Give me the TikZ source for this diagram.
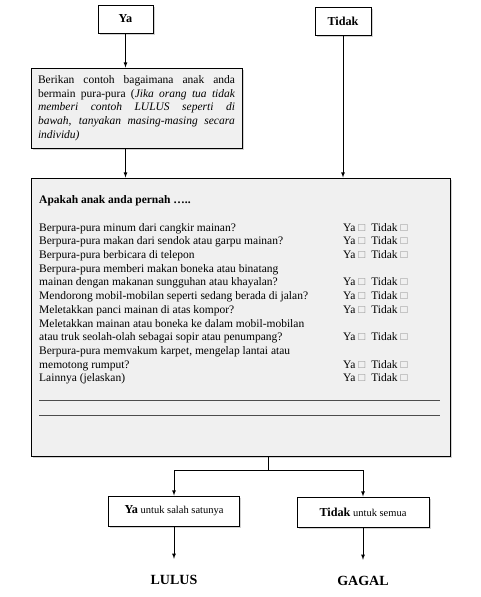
\documentclass[tikz,border=0pt]{standalone}
\usepackage{fontspec}
\setmainfont{Liberation Serif}
\usetikzlibrary{arrows}
\usetikzlibrary{shadows}
\tikzset{t/.style={font=\fontsize{11.5}{13.7}\selectfont}}
\tikzset{h/.style={font=\fontsize{12.2}{14}\selectfont\bfseries}}
\tikzset{s/.style={font=\fontsize{10.5}{12}\selectfont}}
\tikzset{b/.style={font=\fontsize{14}{16}\selectfont\bfseries}}
\tikzset{kotak/.style={draw, line width=1pt, fill=white, inner sep=0pt,
  drop shadow={shadow xshift=1.5pt, shadow yshift=-1.5pt, fill=black!35}}}
\tikzset{abu/.style={kotak, fill=black!6}}
\tikzset{panah/.style={-latex, line width=0.8pt}}
\newcommand{\kk}{\textcolor{black!45}{□}}
\newcommand{\yt}{Ya \kk\hspace{6pt}Tidak \kk}

\begin{document}
\begin{tikzpicture}[x=1pt, y=-1pt]
        \useasboundingbox (0,0) rectangle (481,597);
        \node[kotak, h, minimum width=55pt, minimum height=28pt] (ya) at (125.5,19) {Ya};
        \node[kotak, h, minimum width=56pt, minimum height=28pt] (tidak) at (343,21) {Tidak};
        \node[abu, t, minimum width=211pt, minimum height=80pt, text width=197pt, align=justify] (contoh) at (136.5,108)
          {Berikan contoh bagaimana anak anda\linebreak bermain pura-pura (\textit{Jika orang tua tidak\linebreak memberi contoh LULUS seperti di\linebreak bawah, tanyakan masing-masing secara\linebreak individu)}};
        \node[abu, minimum width=419pt, minimum height=278pt] (tanya) at (240.5,317) {};
        \node[t, anchor=north west, inner sep=0pt] (daftar) at (39,194) {%
          \begin{tabular}{@{}p{304pt}@{}l@{}}
          \textbf{Apakah anak anda pernah …..} & \\
          & \\
          Berpura-pura minum dari cangkir mainan? & \yt \\
          Berpura-pura makan dari sendok atau garpu mainan? & \yt \\
          Berpura-pura berbicara di telepon & \yt \\
          Berpura-pura memberi makan boneka atau binatang & \\
          mainan dengan makanan sungguhan atau khayalan? & \yt \\
          Mendorong mobil-mobilan seperti sedang berada di jalan? & \yt \\
          Meletakkan panci mainan di atas kompor? & \yt \\
          Meletakkan mainan atau boneka ke dalam mobil-mobilan & \\
          atau truk seolah-olah sebagai sopir atau penumpang? & \yt \\
          Berpura-pura memvakum karpet, mengelap lantai atau & \\
          memotong rumput? & \yt \\
          Lainnya (jelaskan) & \yt \\
          \end{tabular}};
        \coordinate (garis1) at (39,400);
        \coordinate (garis2) at (39,415);
        \draw[black!70, line width=0.6pt] (garis1) -- ++(401,0);
        \draw[black!70, line width=0.6pt] (garis2) -- ++(401,0);
        \coordinate (cabang) at (268,470);
        \node[kotak, s, minimum width=131pt, minimum height=30pt] (satu) at (174,511)
          {{\fontsize{12.2}{14}\selectfont\textbf{Ya}} untuk salah satunya};
        \node[kotak, s, minimum width=132pt, minimum height=30pt] (semua) at (363,512)
          {{\fontsize{12.2}{14}\selectfont\textbf{Tidak}} untuk semua};
        \node[b] (lulus) at (174,580) {LULUS};
        \node[b] (gagal) at (363,581) {GAGAL};
        \draw[panah] (ya) -- (ya |- contoh.north);
        \draw[panah] (contoh.south -| ya) -- (ya |- tanya.north);
        \draw[panah] (tidak) -- (tidak |- tanya.north);
        \draw[line width=0.8pt] (tanya.south -| cabang) -- (cabang);
        \draw[panah] (cabang) -| (satu);
        \draw[panah] (cabang) -| (semua);
        \draw[panah, shorten >=13pt] (satu) -- (lulus);
        \draw[panah, shorten >=13pt] (semua) -- (gagal);
      \end{tikzpicture}
\end{document}
